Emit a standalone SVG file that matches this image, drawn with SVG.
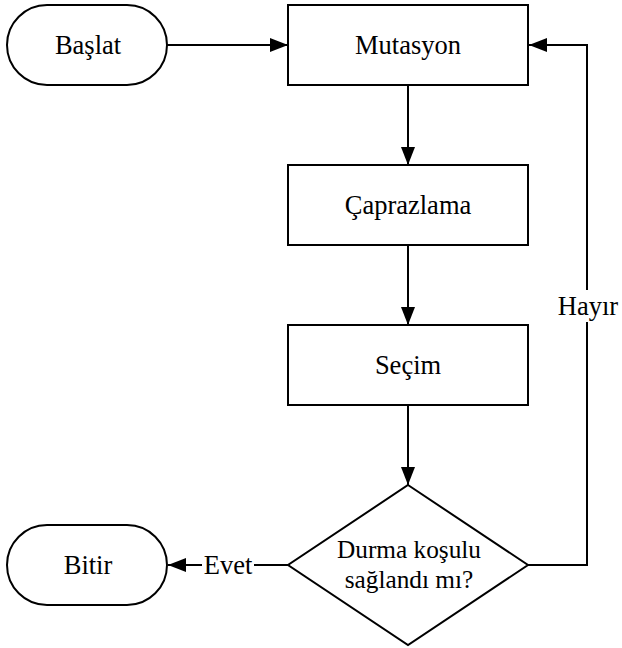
<svg xmlns="http://www.w3.org/2000/svg" width="622" height="648" viewBox="0 0 622 648">
<defs>
<marker id="arr" markerWidth="18" markerHeight="14" refX="18" refY="7" orient="auto" markerUnits="userSpaceOnUse">
<path d="M0,0 L18,7 L0,14 Z" fill="#000"/>
</marker>
</defs>
<style>
.shape{fill:#fff;stroke:#000;stroke-width:2}
.line{fill:none;stroke:#000;stroke-width:2}
.t{font-family:'Liberation Serif','Times New Roman','DejaVu Serif',serif;font-size:26.5px;fill:#000;text-anchor:middle}
.small{font-size:25.3px}
</style>
<rect width="622" height="648" fill="#fff"/>
<g id="connectors">
<line class="line" x1="167" y1="45" x2="288" y2="45" marker-end="url(#arr)"/>
<line class="line" x1="408" y1="85" x2="408" y2="165" marker-end="url(#arr)"/>
<line class="line" x1="408" y1="245" x2="408" y2="325" marker-end="url(#arr)"/>
<line class="line" x1="408" y1="405" x2="408" y2="485" marker-end="url(#arr)"/>
<polyline class="line" points="528,565 587,565 587,45 529,45" marker-end="url(#arr)"/>
<line class="line" x1="288" y1="565" x2="168" y2="565" marker-end="url(#arr)"/>
<rect x="555" y="290" width="64" height="32" fill="#fff"/>
<text class="t" x="588" y="315">Hayır</text>
<rect x="202" y="550" width="52" height="30" fill="#fff"/>
<text class="t" x="228" y="574">Evet</text>
</g>
<g id="baslat">
<rect class="shape" x="7" y="5" width="160" height="80" rx="40"/>
<text class="t" x="88" y="54">Başlat</text>
</g>
<g id="mutasyon">
<rect class="shape" x="288" y="5" width="240" height="80"/>
<text class="t" x="408" y="54">Mutasyon</text>
</g>
<g id="caprazlama">
<rect class="shape" x="288" y="165" width="240" height="80"/>
<text class="t" x="408" y="214">Çaprazlama</text>
</g>
<g id="secim">
<rect class="shape" x="288" y="325" width="240" height="80"/>
<text class="t" x="408" y="374">Seçim</text>
</g>
<g id="durma">
<polygon class="shape" points="408,485 528,565 408,645 288,565"/>
<text class="t small" x="409" y="558">Durma koşulu</text>
<text class="t small" x="409" y="588">sağlandı mı?</text>
</g>
<g id="bitir">
<rect class="shape" x="7" y="525" width="160" height="80" rx="40"/>
<text class="t" x="88" y="574">Bitir</text>
</g>
</svg>
